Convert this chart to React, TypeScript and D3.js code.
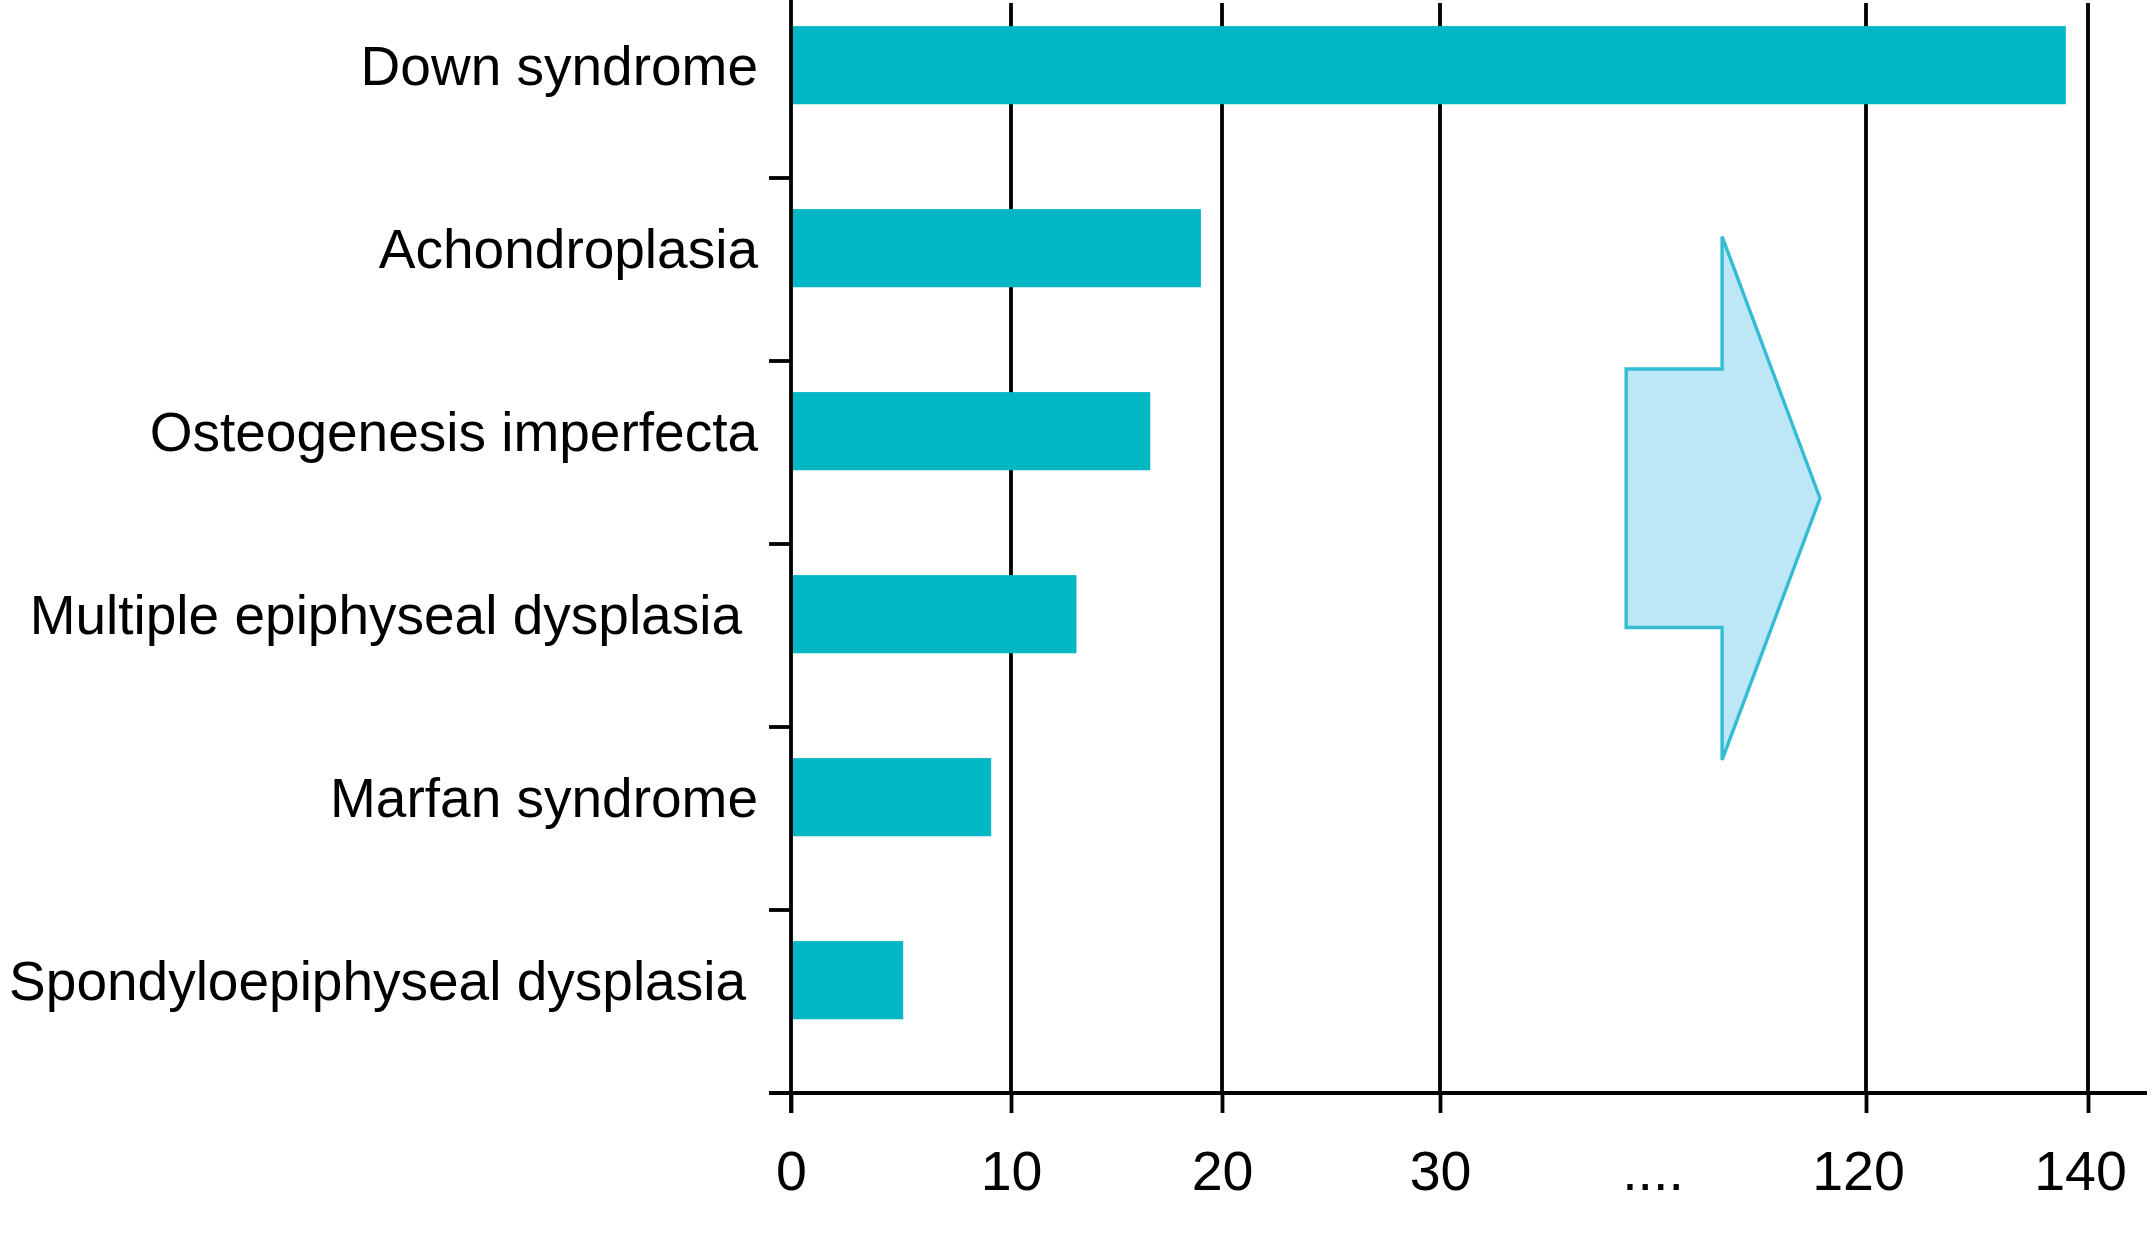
import React, { useEffect, useRef } from 'react';
import { axisBottom, scaleBand, scaleLinear, select, line } from 'd3';

const disorders = [
  'Down syndrome',
  'Achondroplasia',
  'Osteogenesis imperfecta',
  'Multiple epiphyseal dysplasia',
  'Marfan syndrome',
  'Spondyloepiphyseal dysplasia',
];
const cases = [138, 19, 16.6, 13.1, 9.1, 5.1];
const tickValues = [0, 10, 20, 30, 120, 140];
const breakLabel = '....';

// the two long labels sit a bit further left in the original
const labelInset: Record<string, number> = {
  'Multiple epiphyseal dysplasia': 16,
  'Spondyloepiphyseal dysplasia': 12,
};

const BAR = '#02b7c4';
const FONT = '"Liberation Sans", Arial, Helvetica, sans-serif';

const Chart = () => {
  const chartRef = useRef<SVGSVGElement | null>(null);

  useEffect(() => {
    const svg = select(chartRef.current);
    const width = 2150;
    const height = 1248;
    const axisY = 1093;

    svg.selectAll('*').remove();
    svg.attr('width', width).attr('height', height);

    // broken scale: 0..30 then jump to 120..140
    const x = scaleLinear().domain(tickValues).range([791, 1011, 1222, 1440, 1866, 2088]);
    const y = scaleBand().domain(disorders).range([-5, axisY]);
    const bw = y.bandwidth();
    const barOffset = bw * 0.17;
    const barH = bw * 0.427;

    const g = svg.append('g');

    // vertical grid lines
    g.selectAll('.grid')
      .data(tickValues.slice(1))
      .enter()
      .append('line')
      .attr('x1', (d) => x(d))
      .attr('x2', (d) => x(d))
      .attr('y1', 3)
      .attr('y2', axisY)
      .attr('stroke', '#000')
      .attr('stroke-width', 3.8);

    // bars
    g.selectAll('.bar')
      .data(disorders)
      .enter()
      .append('rect')
      .attr('x', x(0))
      .attr('y', (d) => (y(d) ?? 0) + barOffset)
      .attr('width', (d, i) => x(cases[i]) - x(0))
      .attr('height', barH)
      .attr('fill', BAR);

    // category labels
    g.selectAll('.label')
      .data(disorders)
      .enter()
      .append('text')
      .attr('x', (d) => 758 - (labelInset[d] ?? 0))
      .attr('y', (d) => (y(d) ?? 0) + barOffset + barH / 2)
      .attr('dy', '0.36em')
      .attr('text-anchor', 'end')
      .style('font-family', FONT)
      .style('font-size', '55px')
      .attr('fill', '#000')
      .text((d) => d);

    // left axis line + band boundary ticks
    g.append('line')
      .attr('x1', x(0))
      .attr('x2', x(0))
      .attr('y1', 0)
      .attr('y2', axisY + 20)
      .attr('stroke', '#000')
      .attr('stroke-width', 3.8);

    g.selectAll('.ytick')
      .data(disorders.slice(1))
      .enter()
      .append('line')
      .attr('x1', x(0) - 22)
      .attr('x2', x(0))
      .attr('y1', (d) => y(d) ?? 0)
      .attr('y2', (d) => y(d) ?? 0)
      .attr('stroke', '#000')
      .attr('stroke-width', 3.8);

    // bottom axis
    const xAxis = g
      .append('g')
      .attr('transform', `translate(0,${axisY})`)
      .call(axisBottom(x).tickValues(tickValues).tickSize(20).tickPadding(38).tickFormat((d) => String(d)));
    xAxis.select('.domain').remove();
    xAxis.selectAll('.tick line').attr('stroke', '#000').attr('stroke-width', 3.8);
    xAxis
      .selectAll('.tick text')
      .attr('dx', (d) => (Number(d) >= 100 ? -8 : 0))
      .style('font-family', FONT)
      .style('font-size', '55.5px')
      .attr('fill', '#000');

    g.append('line')
      .attr('x1', x(0) - 22)
      .attr('x2', 2147)
      .attr('y1', axisY)
      .attr('y2', axisY)
      .attr('stroke', '#000')
      .attr('stroke-width', 4.2);

    const gapX = (x(30) + x(120)) / 2;
    g.append('text')
      .attr('x', gapX)
      .attr('y', axisY + 20 + 38)
      .attr('dy', '0.71em')
      .attr('text-anchor', 'middle')
      .style('font-family', FONT)
      .style('font-size', '55.5px')
      .attr('fill', '#000')
      .text(breakLabel);

    // arrow marking the scale break
    const left = x(30) + 0.437 * (x(120) - x(30));
    const right = x(30) + 0.892 * (x(120) - x(30));
    const top = (y(disorders[1]) ?? 0) + bw * 0.32;
    const bottom = (y(disorders[4]) ?? 0) + bw * 0.18;
    const ax = scaleLinear().domain([0, 1]).range([left, right]);
    const ay = scaleLinear().domain([0, 1]).range([top, bottom]);
    const shape: [number, number][] = [
      [0, 0.253],
      [0.495, 0.253],
      [0.495, 0],
      [1, 0.5],
      [0.495, 1],
      [0.495, 0.747],
      [0, 0.747],
    ];
    g.append('path')
      .attr(
        'd',
        line<[number, number]>()
          .x((p) => ax(p[0]))
          .y((p) => ay(p[1]))(shape) + 'Z'
      )
      .attr('fill', '#bde6f6')
      .attr('stroke', '#34bcd3')
      .attr('stroke-width', 3.4)
      .attr('stroke-linejoin', 'miter');
  }, []);

  return <svg ref={chartRef} style={{ position: 'absolute', left: 0, top: 0, background: '#fff' }} />;
};

export default function App() {
  return <Chart />;
}
